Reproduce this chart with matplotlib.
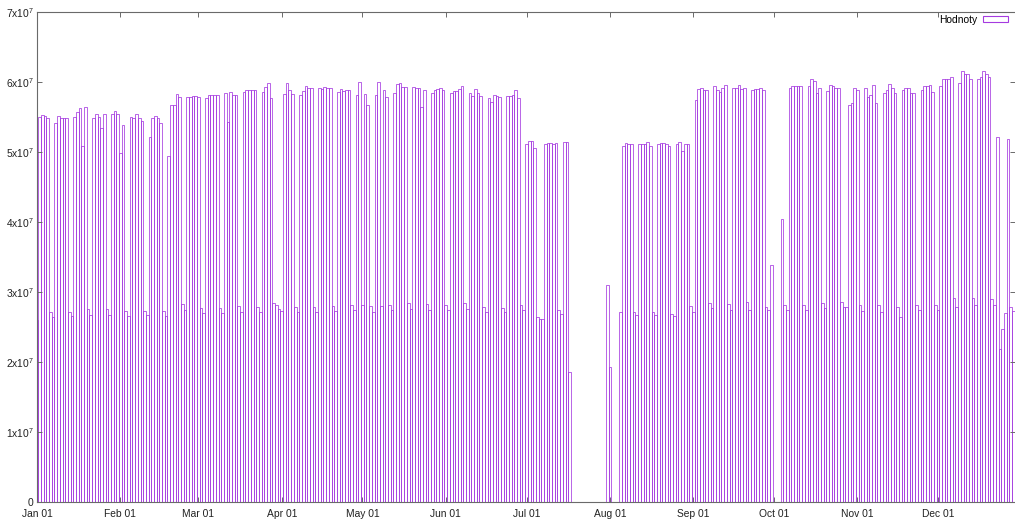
import numpy as np
import matplotlib
matplotlib.use('Agg')
import matplotlib.pyplot as plt
import matplotlib.dates as mdates
from matplotlib.patches import Patch

plt.rcParams['font.family'] = ['Liberation Sans', 'DejaVu Sans']
plt.rcParams['mathtext.fontset'] = 'custom'
plt.rcParams['mathtext.rm'] = 'Liberation Sans'
plt.rcParams['mathtext.it'] = 'Liberation Sans'

nan = np.nan

# daily values, units of 1e7, year 2024 (Dec 1 - Dec 30 shown)
jan = [2.60, 5.50, 5.53, 5.52, 5.49, 2.71, 2.65,
       5.42, 5.51, 5.48, 5.48, 5.48, 2.72, 2.66,
       5.50, 5.57, 5.63, 5.08, 5.64, 2.76, 2.67,
       5.48, 5.54, 5.50, 5.34, 5.55, 2.76, 2.67,
       5.54, 5.58, 5.54]
feb = [4.99, 5.38, 2.73, 2.66,
       5.50, 5.48, 5.55, 5.48, 5.45, 2.73, 2.67,
       5.21, 5.48, 5.52, 5.48, 5.41, 2.73, 2.66,
       4.94, 5.67, 5.67, 5.83, 5.78, 2.83, 2.75,
       5.78, 5.79, 5.80, 5.80]
mar = [5.79, 2.77, 2.70,
       5.77, 5.82, 5.82, 5.82, 5.81, 2.77, 2.70,
       5.84, 5.43, 5.86, 5.81, 5.82, 2.80, 2.72,
       5.86, 5.89, 5.89, 5.88, 5.88, 2.79, 2.72,
       5.86, 5.93, 5.98, 5.77, 2.84, 2.81, 2.76]
apr = [2.73, 5.83, 5.98, 5.89, 5.83, 2.79, 2.72,
       5.82, 5.87, 5.95, 5.92, 5.91, 2.79, 2.72,
       5.92, 5.90, 5.93, 5.91, 5.91, 2.80, 2.73,
       5.86, 5.90, 5.87, 5.89, 5.89, 2.81, 2.74,
       5.82, 6.00]
may = [2.82, 5.83, 5.67, 2.80, 2.72,
       5.82, 6.00, 2.80, 5.88, 5.78, 2.82, 2.75,
       5.85, 5.97, 5.98, 5.93, 5.93, 2.84, 2.76,
       5.93, 5.92, 5.92, 5.65, 5.88, 2.83, 2.75,
       5.84, 5.88, 5.90, 5.92, 5.89]
jun = [2.81, 2.75,
       5.85, 5.87, 5.87, 5.90, 5.94, 2.84, 2.76,
       5.84, 5.80, 5.90, 5.85, 5.80, 2.79, 2.72,
       5.77, 5.71, 5.82, 5.80, 5.78, 2.77, 2.72,
       5.80, 5.80, 5.82, 5.89, 5.77, 2.81, 2.74]
jul = [5.12, 5.16, 5.16, 5.06, 2.65, 2.62, 2.62,
       5.11, 5.13, 5.13, 5.11, 5.13, 2.74, 2.68,
       5.14, 5.15, 1.86,
       nan, nan, nan, nan, nan, nan, nan, nan, nan, nan, nan, nan, nan,
       3.10]
aug = [1.93, nan, nan, nan, 2.71,
       5.08, 5.13, 5.12, 5.11, 2.72, 2.67,
       5.11, 5.11, 5.11, 5.15, 5.09, 2.71, 2.67,
       5.11, 5.13, 5.13, 5.11, 5.09, 2.68, 2.66,
       5.11, 5.15, 5.01, 5.11, 5.11, 2.80]
sep = [2.72,
       5.74, 5.90, 5.91, 5.88, 5.88, 2.84, 2.77,
       5.94, 5.89, 5.86, 5.92, 5.96, 2.83, 2.75,
       5.91, 5.91, 5.96, 5.90, 5.91, 2.86, 2.74,
       5.88, 5.90, 5.90, 5.92, 5.89, 2.79, 2.75,
       3.39]
oct = [nan, nan, nan, 4.05, 2.81, 2.75,
       5.91, 5.94, 5.94, 5.94, 5.94, 2.82, 2.75,
       5.94, 6.04, 6.02, 5.85, 5.91, 2.85, 2.77,
       5.87, 5.96, 5.94, 5.92, 5.91, 2.86, 2.79,
       2.78, 5.67, 5.70, 5.92]
nov = [5.88, 2.81, 2.73,
       5.91, 5.78, 5.82, 5.96, 5.70, 2.81, 2.72,
       5.84, 5.89, 5.97, 5.92, 5.85, 2.78, 2.64,
       5.88, 5.92, 5.92, 5.85, 5.84, 2.81, 2.74,
       5.88, 5.95, 5.95, 5.96, 5.86, 2.81]
dec = [2.75,
       5.94, 6.05, 6.05, 6.04, 6.07, 2.91, 2.79,
       5.99, 6.16, 6.11, 6.11, 6.05, 2.91, 2.81,
       6.05, 6.07, 6.16, 6.11, 6.07, 2.90, 2.81,
       5.21, 2.19, 2.47, 2.70, 5.18, 2.79, 2.73,
       5.21]

values = np.array(jan + feb + mar + apr + may + jun + jul + aug + sep + oct + nov + dec) * 1e7
dates = np.arange(np.datetime64('2024-01-01'), np.datetime64('2024-12-31'))
ok = ~np.isnan(values)

purple = '#a53be0'
grey = '#6a6a6a'

fig = plt.figure(figsize=(10.15, 5.19), dpi=100)
ax = fig.add_axes([37 / 1015, 17 / 519, 978 / 1015, 490 / 519])

ax.bar(dates[ok].astype('datetime64[h]'), values[ok], width=1.0, align='center',
       fill=False, edgecolor=purple, linewidth=0.55)

ax.set_xlim(np.datetime64('2024-01-01T00'), np.datetime64('2024-12-29T15'))
ax.set_ylim(0, 7e7)

ax.xaxis.set_major_locator(mdates.MonthLocator())
ax.xaxis.set_major_formatter(mdates.DateFormatter('%b %d'))
ax.set_yticks(np.arange(0, 8) * 1e7)
ax.set_yticklabels(['0'] + [f'{i}x10$^{{7}}$' for i in range(1, 8)])

ax.tick_params(direction='in', length=3.5, width=0.7, color=grey,
               labelsize=7.4, labelcolor='#222222', top=True, right=True)
ax.tick_params(axis='y', pad=2.5)
ax.tick_params(axis='x', pad=5)
for side in ['left', 'bottom', 'top']:
    ax.spines[side].set_color(grey)
    ax.spines[side].set_linewidth(0.8)
ax.spines['right'].set_visible(False)

ax.legend(handles=[Patch(facecolor='none', edgecolor=purple, linewidth=0.8)],
          labels=['Hodnoty'], loc='upper right', frameon=False, markerfirst=False,
          fontsize=7.4, borderpad=0, borderaxespad=0, handlelength=2.4,
          handleheight=0.55, handletextpad=0.6,
          bbox_to_anchor=(1008 / 1015, 1 - 15 / 519), bbox_transform=fig.transFigure)

fig.savefig('out.png', dpi=100)
